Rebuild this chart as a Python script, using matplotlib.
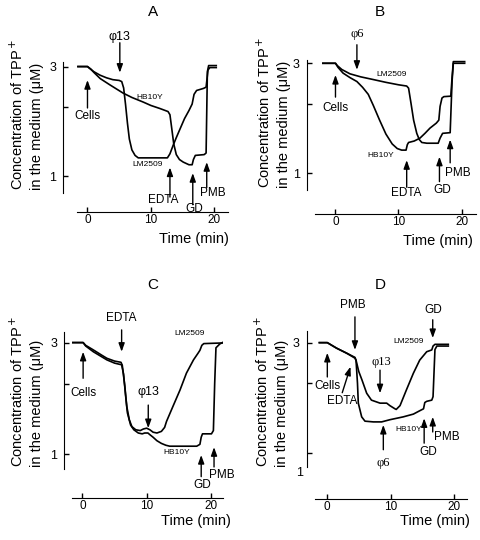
import numpy as np
import matplotlib.pyplot as plt
from matplotlib.ticker import NullLocator, NullFormatter

plt.rcParams['font.family'] = ['Liberation Sans', 'DejaVu Sans']

# TPP+ concentration (uM) vs time (min)
A_LM_t = [-1.5, 0, 0.3, 1.0, 2.0, 3.0, 4.0, 5.0, 5.4, 5.7, 6.0, 6.3, 6.6, 7.0, 7.5, 8.0, 8.5, 12.6, 13.0, 13.5,
          14.0, 14.7, 15.3, 16.0, 16.5, 16.8, 17.2, 18.3, 18.7, 19.0, 19.3, 20.3]
A_LM_y = [3.0, 3.0, 2.95, 2.85, 2.75, 2.68, 2.63, 2.61, 2.58, 2.42, 2.05, 1.70, 1.45, 1.30, 1.23, 1.20, 1.20, 1.20, 1.25, 1.36,
          1.47, 1.63, 1.78, 1.93, 2.06, 2.27, 2.36, 2.41, 2.44, 2.90, 2.97, 2.97]
A_HB_t = [-1.5, 0, 0.5, 1.0, 2.0, 3.5, 5.6, 7.0, 8.8, 10.0, 11.4, 12.7, 13.0, 13.3, 13.6, 14.0, 14.5, 15.1, 16.0, 16.5,
          16.7, 17.0, 18.4, 18.7, 18.9, 19.1, 20.3]
A_HB_y = [3.0, 3.0, 2.93, 2.83, 2.66, 2.50, 2.30, 2.20, 2.10, 2.03, 1.97, 1.91, 1.85, 1.60, 1.38, 1.24, 1.18, 1.15, 1.12, 1.12,
          1.18, 1.23, 1.24, 1.26, 2.85, 3.03, 3.03]

B_LM_t = [-2.0, 0, 0.3, 1.0, 2.3, 4.0, 6.0, 8.0, 10.0, 11.3, 11.6, 12.0, 12.4, 12.9, 13.3, 13.7, 14.5, 16.3, 16.6, 17.0,
          18.2, 18.5, 18.7, 20.5]
B_LM_y = [3.0, 3.0, 2.93, 2.82, 2.70, 2.62, 2.55, 2.48, 2.42, 2.39, 2.34, 2.0, 1.70, 1.49, 1.40, 1.36, 1.35, 1.35, 1.42, 1.49,
          1.50, 2.5, 3.0, 3.0]
B_HB_t = [-2.0, 0, 0.4, 1.2, 2.3, 3.4, 4.3, 5.2, 6.0, 7.0, 8.0, 9.0, 9.8, 10.5, 11.2, 11.4, 11.6, 12.5, 13.4, 14.2,
          15.0, 16.0, 16.4, 16.6, 16.9, 17.2, 18.3, 18.5, 18.7, 20.5]
B_HB_y = [3.0, 3.0, 2.88, 2.72, 2.60, 2.50, 2.36, 2.20, 1.97, 1.70, 1.48, 1.34, 1.28, 1.26, 1.26, 1.33, 1.36, 1.38, 1.42, 1.49,
          1.57, 1.65, 1.70, 1.95, 2.12, 2.15, 2.16, 2.6, 3.05, 3.05]

C_LM_t = [-1.5, 0.1, 0.5, 1.7, 3.0, 3.8, 5.0, 6.0, 6.2, 6.6, 6.9, 7.3, 7.7, 8.3, 9.0, 9.5, 10.0, 10.5, 11.0, 11.6,
          12.3, 12.8, 13.1, 14.1, 15.2, 16.2, 17.3, 18.0, 18.3, 18.6, 18.9, 20.4, 22.0]
C_LM_y = [3.0, 3.0, 2.92, 2.79, 2.65, 2.57, 2.50, 2.47, 2.40, 1.95, 1.60, 1.40, 1.31, 1.27, 1.26, 1.28, 1.29, 1.27, 1.24, 1.23,
          1.25, 1.30, 1.38, 1.60, 1.88, 2.22, 2.53, 2.70, 2.78, 2.92, 2.97, 2.98, 2.99]
C_HB_t = [-1.5, 0.1, 0.5, 1.7, 3.8, 5.0, 6.1, 6.4, 6.7, 7.0, 7.5, 8.0, 8.7, 9.3, 9.7, 10.2, 10.5, 11.0, 11.6, 12.3,
          13.0, 13.6, 17.8, 18.3, 18.5, 18.7, 20.1, 20.4, 20.6, 20.8, 21.4, 22.0]
C_HB_y = [3.0, 3.0, 2.90, 2.74, 2.53, 2.45, 2.41, 2.20, 1.80, 1.50, 1.33, 1.27, 1.23, 1.22, 1.23, 1.23, 1.21, 1.18, 1.14, 1.11,
          1.09, 1.08, 1.08, 1.10, 1.18, 1.22, 1.22, 1.26, 2.0, 2.85, 2.96, 3.02]

D_LM_t = [-1.2, 0.05, 1.5, 3.1, 4.4, 4.6, 5.0, 5.5, 6.25, 7.0, 8.35, 9.4, 9.9, 10.7, 10.9, 11.5, 12.5, 13.6, 14.6, 15.7,
          16.5, 16.7, 17.0, 19.1]
D_LM_y = [3.0, 3.0, 2.84, 2.70, 2.59, 2.50, 2.25, 2.07, 1.81, 1.69, 1.64, 1.64, 1.60, 1.55, 1.54, 1.60, 1.87, 2.21, 2.52, 2.74,
          2.79, 2.90, 2.95, 2.95]
D_HB_t = [-1.2, 0.05, 1.5, 3.1, 4.4, 4.57, 4.8, 4.93, 5.46, 5.98, 7.3, 8.6, 9.9, 12.0, 13.6, 14.6, 15.2, 15.4, 15.7, 16.5,
          16.7, 17.0, 17.3, 19.1]
D_HB_y = [3.0, 3.0, 2.84, 2.70, 2.57, 2.52, 2.0, 1.64, 1.43, 1.37, 1.36, 1.36, 1.39, 1.43, 1.47, 1.52, 1.55, 1.65, 1.67, 1.69,
          1.75, 2.8, 2.90, 2.90]

W, H = 480, 540
fig = plt.figure(figsize=(4.8, 5.4), dpi=100)


def fx(px):
    return px / W


def fy(py):
    return 1 - py / H


def panel(left, top, right, bottom, xlim, ylim, left_out, bottom_out):
    ax = fig.add_axes([fx(left), fy(bottom), (right - left) / W, (bottom - top) / H])
    ax.patch.set_visible(False)
    ax.set_yscale('log')
    ax.set_xlim(*xlim)
    ax.set_ylim(*ylim)
    for s in ['top', 'right']:
        ax.spines[s].set_visible(False)
    ax.spines['left'].set_position(('outward', left_out))
    ax.spines['bottom'].set_position(('outward', bottom_out))
    ax.set_yticks([1, 2, 3])
    ax.set_yticklabels(['1', '', '3'])
    ax.yaxis.set_minor_locator(NullLocator())
    ax.yaxis.set_minor_formatter(NullFormatter())
    ax.set_xticks([0, 10, 20])
    ax.tick_params(direction='in', length=3.5, width=1, labelsize=8.5)
    ax.tick_params(axis='y', pad=5, labelsize=9)
    ax.tick_params(axis='x', pad=1.5)
    return ax


def arrow(ax, x, y_tail, y_tip, x_tail=None):
    ax.annotate('', xy=(x, y_tip), xytext=(x if x_tail is None else x_tail, y_tail),
                arrowprops=dict(arrowstyle='-|>,head_length=0.5,head_width=0.18', color='k', lw=1.0,
                                shrinkA=0, shrinkB=0),
                annotation_clip=False)


def note(ax, x, y, s, size=8.5, serif=False):
    fam = ['Liberation Serif', 'DejaVu Serif'] if serif else ['Liberation Sans', 'DejaVu Sans']
    ax.text(x, y, s, ha='center', va='center', fontsize=size, family=fam)


def frame_text(title, tx, ty, ylx, yly, xlx, xly):
    fig.text(fx(tx), fy(ty), title, ha='center', va='center', fontsize=11)
    fig.text(fx(ylx), fy(yly), 'Concentration of TPP$^+$\nin the medium (μM)', rotation=90,
             ha='center', va='bottom', multialignment='left', fontsize=10.5, linespacing=1.35)
    fig.text(fx(xlx), fy(xly), 'Time (min)', ha='right', va='center', fontsize=10.5)


# ---- A ----
ax = panel(76.7, 61.7, 228.3, 192.7, (-1.7, 22.2), (0.846, 3.15), 9.6, 14.1)
ax.plot(A_LM_t, A_LM_y, color='k', lw=1.2)
ax.plot(A_HB_t, A_HB_y, color='k', lw=1.2)
arrow(ax, 5.1, 3.81, 2.82); note(ax, 5.1, 4.05, 'φ13', 9)
arrow(ax, 0, 1.98, 2.62); note(ax, 0, 1.83, 'Cells')
arrow(ax, 13.0, 0.81, 1.09); note(ax, 11.9, 0.785, 'EDTA')
arrow(ax, 16.6, 0.75, 1.03); note(ax, 16.8, 0.72, 'GD')
arrow(ax, 18.8, 0.89, 1.15); note(ax, 19.8, 0.84, 'PMB')
note(ax, 9.8, 2.21, 'HB10Y', 6)
note(ax, 9.5, 1.12, 'LM2509', 6)
frame_text('A', 153, 12, 26, 190, 229, 239)

# ---- B ----
ax = panel(315, 60, 476, 190, (-3.25, 22.3), (0.846, 3.1), 6, 17.3)
ax.plot(B_LM_t, B_LM_y, color='k', lw=1.2)
ax.plot(B_HB_t, B_HB_y, color='k', lw=1.2)
arrow(ax, 3.4, 3.61, 2.81); note(ax, 3.4, 4.0, 'φ6', 9, serif=True)
arrow(ax, 0, 2.14, 2.67); note(ax, 0, 1.92, 'Cells')
arrow(ax, 11.3, 0.87, 1.14); note(ax, 11.3, 0.82, 'EDTA')
arrow(ax, 16.5, 0.92, 1.18); note(ax, 16.9, 0.846, 'GD')
arrow(ax, 18.2, 1.11, 1.40); note(ax, 19.4, 1.0, 'PMB')
note(ax, 8.9, 2.67, 'LM2509', 6)
note(ax, 7.1, 1.20, 'HB10Y', 6)
frame_text('B', 380, 12, 273, 188, 473, 241)

# ---- C ----
ax = panel(71.7, 331.7, 222.7, 469.3, (-1.68, 21.85), (0.86, 3.34), 5.5, 20.4)
ax.plot(C_LM_t, C_LM_y, color='k', lw=1.2)
ax.plot(C_HB_t, C_HB_y, color='k', lw=1.2)
arrow(ax, 6.1, 3.40, 2.74); note(ax, 6.1, 3.82, 'EDTA')
arrow(ax, 0.1, 2.11, 2.74); note(ax, 0.1, 1.82, 'Cells')
arrow(ax, 10.25, 1.62, 1.29); note(ax, 10.25, 1.85, 'φ13', 9)
arrow(ax, 18.5, 0.80, 0.99); note(ax, 18.6, 0.74, 'GD')
arrow(ax, 20.5, 0.88, 1.07); note(ax, 21.7, 0.81, 'PMB')
note(ax, 16.7, 3.29, 'LM2509', 6)
note(ax, 14.7, 1.01, 'HB10Y', 6)
frame_text('C', 153, 285, 26, 467, 231, 521)

# ---- D ----
ax = panel(315, 331, 466.7, 467, (-1.89, 22.0), (0.867, 3.37), 6, 23.3)
ax.set_yticklabels(['', '', '3'])
fig.text(fx(300), fy(472.7), '1', ha='center', va='center', fontsize=9)
ax.plot(D_LM_t, D_LM_y, color='k', lw=1.2)
ax.plot(D_HB_t, D_HB_y, color='k', lw=1.2)
arrow(ax, 4.4, 3.88, 2.79); note(ax, 4.1, 4.36, 'PMB')
arrow(ax, 0.05, 2.13, 2.71); note(ax, 0.05, 1.95, 'Cells')
arrow(ax, 3.7, 1.82, 2.36, x_tail=2.4); note(ax, 2.4, 1.68, 'EDTA')
arrow(ax, 8.35, 2.28, 1.81); note(ax, 8.6, 2.48, 'φ13', 9, serif=True)
arrow(ax, 8.87, 1.03, 1.32); note(ax, 8.87, 0.90, 'φ6', 9, serif=True)
arrow(ax, 15.3, 1.10, 1.41); note(ax, 16.0, 1.01, 'GD')
arrow(ax, 16.65, 1.23, 1.43); note(ax, 18.85, 1.17, 'PMB')
arrow(ax, 16.65, 3.77, 3.14); note(ax, 16.7, 4.16, 'GD')
note(ax, 12.8, 3.03, 'LM2509', 6)
note(ax, 12.8, 1.26, 'HB10Y', 6)
frame_text('D', 380, 285, 271, 467, 470, 521)

fig.savefig('out.png', dpi=100)
